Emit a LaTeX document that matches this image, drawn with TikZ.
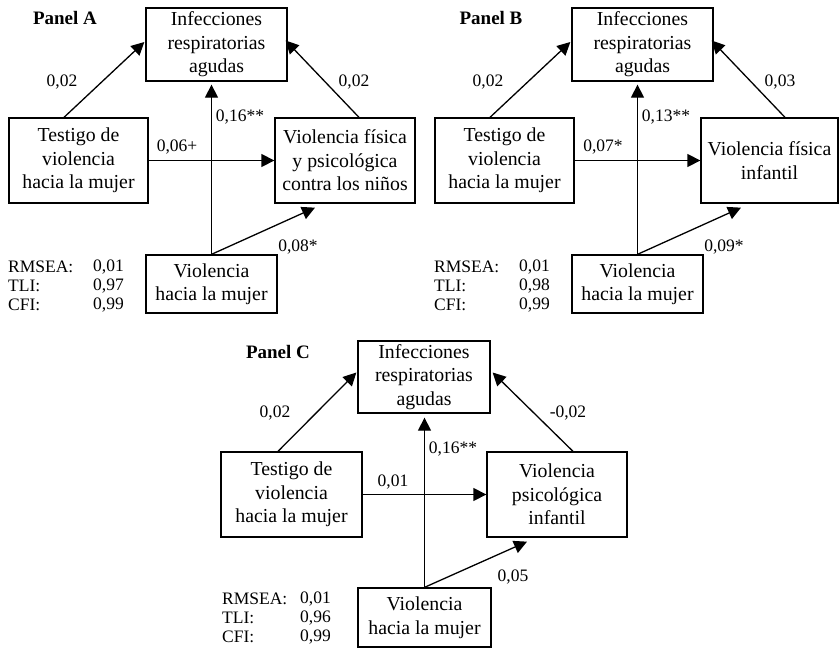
\documentclass[tikz,border=0pt]{standalone}
\usepackage{fontspec}
\setmainfont{Liberation Serif}
\usetikzlibrary{arrows.meta}
\newcommand\boxfont{\fontsize{19.8}{23.5}\selectfont}
\newcommand\labfont{\fontsize{17.5}{19}\selectfont}
\newcommand\panfont{\fontsize{19}{20}\selectfont\bfseries}
\tikzset{
  vbox/.style={draw, line width=1.3pt, align=center, inner sep=0pt, font=\boxfont},
  arr/.style={line width=1.3pt, -{Triangle[length=13pt,width=13pt]}},
  lab/.style={font=\labfont, inner sep=0pt},
  pan/.style={font=\panfont, inner sep=0pt},
  stat/.style={font=\labfont, inner sep=0pt, anchor=west},
}
\begin{document}
\begin{tikzpicture}[x=1pt,y=-1pt]
\useasboundingbox (0,0) rectangle (839,648);
% ---------------- Panel A ----------------
\node[pan] (pA) at (65,18) {Panel A};
\node[vbox, minimum width=141pt, minimum height=73pt] (topA) at (216.5,44.5) {Infecciones\\respiratorias\\agudas};
\node[vbox, minimum width=139pt, minimum height=85pt] (testA) at (78.5,160.5) {Testigo de\\violencia\\hacia la mujer};
\node[vbox, minimum width=140pt, minimum height=85pt] (rightA) at (345,160.5) {Violencia física\\y psicológica\\contra los niños};
\node[vbox, minimum width=131pt, minimum height=58pt] (botA) at (211.5,284) {Violencia\\hacia la mujer};
\draw[arr] ([xshift=-14.5pt]testA.north) -- ([xshift=-1pt,yshift=2.5pt]topA.west);
\draw[arr] ([xshift=14pt]rightA.north) -- ([xshift=-2pt,yshift=4pt]topA.east);
\draw[arr, shorten >=3pt] (botA.north) -- (botA.north |- topA.south);
\draw[arr] (testA.east) -- (rightA.west);
\draw[arr] (botA.north) -- ([xshift=-30pt,yshift=-4pt]rightA.south);
\node[lab] (a1) at (62,82) {0,02};
\node[lab] (a2) at (354,82) {0,02};
\node[lab] (a3) at (240,117) {0,16**};
\node[lab] (a4) at (177,147) {0,06+};
\node[lab] (a5) at (298,247) {0,08*};
\node[stat] (sa1) at (8,267) {RMSEA:};
\node[stat] (sa2) at (8,286) {TLI:};
\node[stat] (sa3) at (8,305) {CFI:};
\node[stat] (va1) at (93,267) {0,01};
\node[stat] (va2) at (93,286) {0,97};
\node[stat] (va3) at (93,305) {0,99};
% ---------------- Panel B ----------------
\node[pan] (pB) at (491,18) {Panel B};
\node[vbox, minimum width=141pt, minimum height=73pt] (topB) at (642.5,44.5) {Infecciones\\respiratorias\\agudas};
\node[vbox, minimum width=139pt, minimum height=85pt] (testB) at (504.5,160.5) {Testigo de\\violencia\\hacia la mujer};
\node[vbox, minimum width=137pt, minimum height=85pt] (rightB) at (769.5,160.5) {Violencia física\\infantil};
\node[vbox, minimum width=131pt, minimum height=58pt] (botB) at (637.5,284) {Violencia\\hacia la mujer};
\draw[arr] ([xshift=-14.5pt]testB.north) -- ([xshift=-1pt,yshift=2.5pt]topB.west);
\draw[arr] ([xshift=15.5pt]rightB.north) -- ([xshift=-2pt,yshift=4pt]topB.east);
\draw[arr, shorten >=3pt] (botB.north) -- (botB.north |- topB.south);
\draw[arr] (testB.east) -- (rightB.west);
\draw[arr] (botB.north) -- ([xshift=-28.5pt,yshift=-4pt]rightB.south);
\node[lab] (b1) at (488,82) {0,02};
\node[lab] (b2) at (780,82) {0,03};
\node[lab] (b3) at (666,117) {0,13**};
\node[lab] (b4) at (603,147) {0,07*};
\node[lab] (b5) at (724,247) {0,09*};
\node[stat] (sb1) at (434,267) {RMSEA:};
\node[stat] (sb2) at (434,286) {TLI:};
\node[stat] (sb3) at (434,305) {CFI:};
\node[stat] (vb1) at (519,267) {0,01};
\node[stat] (vb2) at (519,286) {0,98};
\node[stat] (vb3) at (519,305) {0,99};
% ---------------- Panel C ----------------
\node[pan] (pC) at (278,352) {Panel C};
\node[vbox, minimum width=132pt, minimum height=72pt] (topC) at (424,377) {Infecciones\\respiratorias\\agudas};
\node[vbox, minimum width=141pt, minimum height=85pt] (testC) at (291.5,494.5) {Testigo de\\violencia\\hacia la mujer};
\node[vbox, minimum width=140pt, minimum height=85pt] (rightC) at (557,494.5) {Violencia\\psicológica\\infantil};
\node[vbox, minimum width=133pt, minimum height=59pt] (botC) at (424.5,617.5) {Violencia\\hacia la mujer};
\draw[arr] ([xshift=-13.5pt]testC.north) -- ([xshift=-1pt,yshift=4.5pt]topC.west);
\draw[arr] ([xshift=16pt]rightC.north) -- ([xshift=2pt,yshift=4.5pt]topC.east);
\draw[arr, shorten >=4pt] (botC.north) -- (botC.north |- topC.south);
\draw[arr] (testC.east) -- (rightC.west);
\draw[arr] (botC.north) -- ([xshift=-30pt,yshift=-4pt]rightC.south);
\node[lab] (c1) at (275,413) {0,02};
\node[lab] (c2) at (568,413) {-0,02};
\node[lab] (c3) at (453,449) {0,16**};
\node[lab] (c4) at (393,482) {0,01};
\node[lab] (c5) at (513,577) {0,05};
\node[stat] (sc1) at (222,599) {RMSEA:};
\node[stat] (sc2) at (222,618) {TLI:};
\node[stat] (sc3) at (222,637) {CFI:};
\node[stat] (vc1) at (300,599) {0,01};
\node[stat] (vc2) at (300,618) {0,96};
\node[stat] (vc3) at (300,637) {0,99};
\end{tikzpicture}
\end{document}
